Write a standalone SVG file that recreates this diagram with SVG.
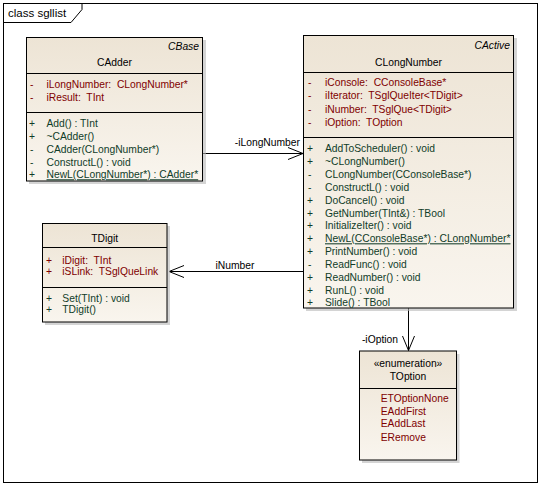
<svg xmlns="http://www.w3.org/2000/svg" width="540" height="486" viewBox="0 0 540 486">
<style>
text{font-family:"Liberation Sans",Arial,sans-serif;font-size:10.3px;fill:#000;white-space:pre}
.box{fill:url(#g);stroke:#000;stroke-width:1}
.sh{fill:#b8b8b8;opacity:0.6}
.div{stroke:#000;stroke-width:1}
.at{fill:#800000}
.op{fill:#103c28}
.st{font-style:italic}
.c{text-anchor:middle}
.r{text-anchor:end}
.con{stroke:#000;stroke-width:1;fill:none}
</style>
<defs>
<linearGradient id="g" x1="0" y1="0" x2="0" y2="1">
<stop offset="0" stop-color="#ede4d5"/>
<stop offset="1" stop-color="#f9f5ee"/>
</linearGradient>
</defs>
<rect width="540" height="486" fill="#fff"/>
<g id="frame">
<rect x="3.5" y="3.5" width="534" height="479" fill="none" stroke="#000"/>
<path d="M3.5,22.5 H71 L82,9.5 V3.5" fill="none" stroke="#000"/>
<text x="8" y="17" style="font-size:11.5px">class sgllist</text>
</g>
<g id="connectors">
<line class="con" x1="203" y1="153.5" x2="303" y2="153.5"/>
<polyline class="con" points="288,147.5 303,153.5 288,159.5"/>
<text x="300" y="146" class="r">-iLongNumber</text>
<line class="con" x1="303" y1="271.5" x2="169" y2="271.5"/>
<polyline class="con" points="184,265.5 169,271.5 184,277.5"/>
<text x="235" y="268.5" class="c">iNumber</text>
<line class="con" x1="408.5" y1="308" x2="408.5" y2="350.5"/>
<polyline class="con" points="402.5,336 408.5,350.5 414.5,336"/>
<text x="398" y="342.5" class="r">-iOption</text>
</g>
<g id="CAdder">
<rect class="sh" x="29" y="40" width="177" height="144"/>
<rect class="box" x="26.5" y="37.5" width="176" height="143.5"/>
<text x="199" y="50" class="r st">CBase</text>
<text x="114.5" y="65.5" class="c">CAdder</text>
<line class="div" x1="26.5" y1="73.5" x2="202.5" y2="73.5"/>
<text x="30" y="88" class="at">-</text><text x="46.5" y="88" class="at">iLongNumber:  CLongNumber*</text>
<text x="30" y="100.5" class="at">-</text><text x="46.5" y="100.5" class="at">iResult:  TInt</text>
<line class="div" x1="26.5" y1="112.5" x2="202.5" y2="112.5"/>
<text x="29" y="126.5" class="op">+</text><text x="46.5" y="126.5" class="op">Add() : TInt</text>
<text x="29" y="139.5" class="op">+</text><text x="46.5" y="139.5" class="op">~CAdder()</text>
<text x="30" y="152.5" class="op">-</text><text x="46.5" y="152.5" class="op">CAdder(CLongNumber*)</text>
<text x="30" y="165.5" class="op">-</text><text x="46.5" y="165.5" class="op">ConstructL() : void</text>
<text x="29" y="178.3" class="op">+</text><text x="46.5" y="178.3" class="op" text-decoration="underline">NewL(CLongNumber*) : CAdder*</text>
</g>
<g id="CLongNumber">
<rect class="sh" x="306" y="38" width="211" height="273"/>
<rect class="box" x="303.5" y="35.5" width="210" height="272.5"/>
<text x="510" y="48.7" class="r st">CActive</text>
<text x="408.5" y="65.5" class="c">CLongNumber</text>
<line class="div" x1="303.5" y1="72.5" x2="513.5" y2="72.5"/>
<text x="308" y="86" class="at">-</text><text x="325" y="86" class="at">iConsole:  CConsoleBase*</text>
<text x="308" y="99.3" class="at">-</text><text x="325" y="99.3" class="at">iIterator:  TSglQueIter&lt;TDigit&gt;</text>
<text x="308" y="112.6" class="at">-</text><text x="325" y="112.6" class="at">iNumber:  TSglQue&lt;TDigit&gt;</text>
<text x="308" y="125.5" class="at">-</text><text x="325" y="125.5" class="at">iOption:  TOption</text>
<line class="div" x1="303.5" y1="137.5" x2="513.5" y2="137.5"/>
<text x="307" y="152" class="op">+</text><text x="325" y="152" class="op">AddToScheduler() : void</text>
<text x="307" y="164.9" class="op">+</text><text x="325" y="164.9" class="op">~CLongNumber()</text>
<text x="308" y="177.8" class="op">-</text><text x="325" y="177.8" class="op">CLongNumber(CConsoleBase*)</text>
<text x="308" y="190.7" class="op">-</text><text x="325" y="190.7" class="op">ConstructL() : void</text>
<text x="307" y="203.6" class="op">+</text><text x="325" y="203.6" class="op">DoCancel() : void</text>
<text x="307" y="216.5" class="op">+</text><text x="325" y="216.5" class="op">GetNumber(TInt&amp;) : TBool</text>
<text x="307" y="229.4" class="op">+</text><text x="325" y="229.4" class="op">InitializeIter() : void</text>
<text x="307" y="242.3" class="op">+</text><text x="325" y="242.3" class="op" text-decoration="underline">NewL(CConsoleBase*) : CLongNumber*</text>
<text x="307" y="255.2" class="op">+</text><text x="325" y="255.2" class="op">PrintNumber() : void</text>
<text x="308" y="268.1" class="op">-</text><text x="325" y="268.1" class="op">ReadFunc() : void</text>
<text x="307" y="281" class="op">+</text><text x="325" y="281" class="op">ReadNumber() : void</text>
<text x="307" y="293.9" class="op">+</text><text x="325" y="293.9" class="op">RunL() : void</text>
<text x="307" y="306.4" class="op">+</text><text x="325" y="306.4" class="op">Slide() : TBool</text>
</g>
<g id="TDigit">
<rect class="sh" x="45" y="226" width="125" height="99"/>
<rect class="box" x="42.5" y="223.5" width="124.5" height="98.5"/>
<text x="104.7" y="242" class="c">TDigit</text>
<line class="div" x1="42.5" y1="247.5" x2="167" y2="247.5"/>
<text x="46" y="263.7" class="at">+</text><text x="62.3" y="263.7" class="at">iDigit:  TInt</text>
<text x="46" y="275.4" class="at">+</text><text x="62.3" y="275.4" class="at">iSLink:  TSglQueLink</text>
<line class="div" x1="42.5" y1="287.5" x2="167" y2="287.5"/>
<text x="46" y="302" class="op">+</text><text x="62.3" y="302" class="op">Set(TInt) : void</text>
<text x="46" y="313" class="op">+</text><text x="62.3" y="313" class="op">TDigit()</text>
</g>
<g id="TOption">
<rect class="sh" x="362" y="354" width="97.5" height="109"/>
<rect class="box" x="359.5" y="351" width="97" height="109"/>
<text x="408" y="366.5" class="c">«enumeration»</text>
<text x="408" y="380" class="c">TOption</text>
<line class="div" x1="359.5" y1="388.5" x2="456.5" y2="388.5"/>
<text x="380.7" y="402" class="at">ETOptionNone</text>
<text x="380.7" y="414.5" class="at">EAddFirst</text>
<text x="380.7" y="427" class="at">EAddLast</text>
<text x="380.7" y="440.5" class="at">ERemove</text>
</g>
</svg>
